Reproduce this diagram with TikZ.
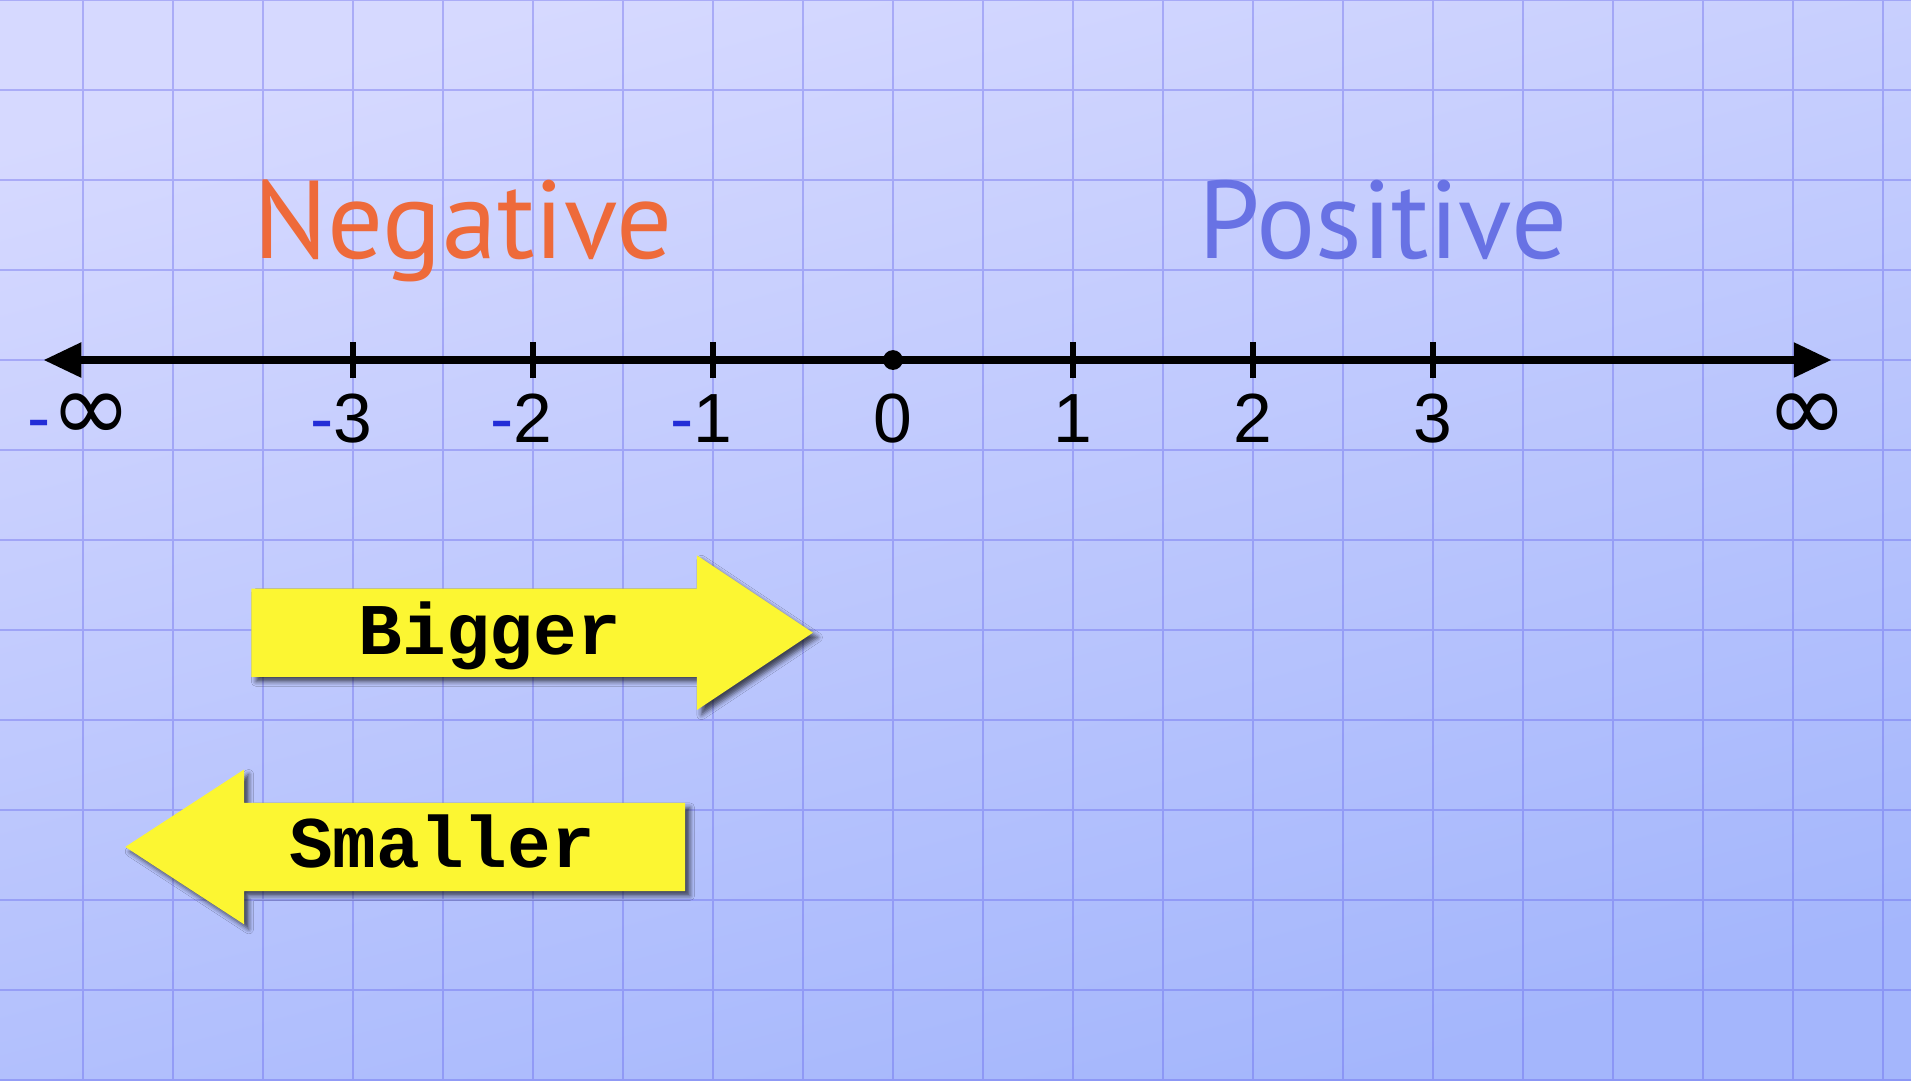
\documentclass[tikz,border=0pt]{standalone}
\usepackage{fontspec}
\usepackage{amsmath}
\usetikzlibrary{arrows.meta, positioning, calc, shadows.blur}
\newfontfamily\numfont{Liberation Sans}
\newfontfamily\inffont{DejaVu Sans}
\newfontfamily\headfont{PT Sans}
\newfontfamily\boxfont{Liberation Mono}
\definecolor{bgtop}{RGB}{214,217,255}
\definecolor{bgbot}{RGB}{164,182,252}
\definecolor{gridcol}{RGB}{100,100,235}
\definecolor{negcol}{RGB}{238,106,58}
\definecolor{poscol}{RGB}{104,114,228}
\definecolor{minuscol}{RGB}{35,45,215}
\definecolor{arrowyel}{RGB}{252,246,50}

\begin{document}
\begin{tikzpicture}[
  gridline/.style={draw=gridcol, opacity=0.38, line width=0.6pt},
  numline/.style={line width=2.5pt,
                  {Triangle[length=12pt,width=10.5pt]}-{Triangle[length=12pt,width=10.5pt]}},
  tickmark/.style={line width=2pt},
  numlabel/.style={font=\numfont\fontsize{22}{24}\selectfont, inner sep=0pt, anchor=base},
  inflabel/.style={font=\inffont\fontsize{31}{33}\selectfont, inner sep=0pt},
  headlabel/.style={font=\headfont\fontsize{35}{40}\selectfont, inner sep=0pt, anchor=base},
  boxarrow/.style={fill=arrowyel, blur shadow={shadow xshift=1.5pt, shadow yshift=-1.5pt,
                   shadow blur radius=1.5pt, shadow opacity=65}},
  boxlabel/.style={font=\boxfont\bfseries\fontsize{23}{26}\selectfont, inner sep=0pt, anchor=base}
]

% Paper background
\shade[top color=bgtop, bottom color=bgbot, shading angle=15]
      (-9.922,-8) rectangle (11.311,4);
\useasboundingbox (-9.922,-8) rectangle (11.311,4);
\draw[gridline] (-9.922,-8) grid (11.311,4);

% Headings
\node[headlabel, text=negcol] (neg) at (-4.78,1.13) {Negative};
\node[headlabel, text=poscol] (pos) at (5.44,1.13)  {Positive};

% Number line
\coordinate (lend) at (-9.44,0);
\coordinate (rend) at (10.43,0);
\draw[numline] (lend) -- (rend);

\foreach \n in {-3,...,3}
  \coordinate (t\n) at (2*\n,0);
\foreach \n in {-3,-2,-1,1,2,3}
  \draw[tickmark] (t\n) ++(0,0.2) -- ++(0,-0.4);
\fill (t0) circle (0.11);

% Labels under the line
\foreach \n in {0,1,2,3}
  \node[numlabel] (lab\n) at ($(t\n)+(0,-0.92)$) {\n};
\foreach \n/\m in {-3/3, -2/2, -1/1}
  \node[numlabel] (lab\n) at ($(t\n)+(0,-0.92)$) {\llap{\textcolor{minuscol}{-}}\m};

\node[inflabel] (labninf) at (-8.91,-0.64)
      {\llap{\numfont\fontsize{22}{24}\selectfont\textcolor{minuscol}{-}}∞};
\node[inflabel] (labpinf) at (10.16,-0.64) {∞};

% Yellow arrows
\fill[boxarrow] (-7.13,-2.54) -- (-2.18,-2.54) -- (-2.18,-2.17) -- (-0.89,-3.03)
             -- (-2.18,-3.89) -- (-2.18,-3.52) -- (-7.13,-3.52) -- cycle;
\node[boxlabel] (bigger) at (-4.48,-3.27) {Bigger};

\fill[boxarrow] (-2.31,-4.92) -- (-7.21,-4.92) -- (-7.21,-4.55) -- (-8.53,-5.41)
             -- (-7.21,-6.27) -- (-7.21,-5.90) -- (-2.31,-5.90) -- cycle;
\node[boxlabel] (smaller) at (-5.01,-5.64) {Smaller};

\end{tikzpicture}
\end{document}
